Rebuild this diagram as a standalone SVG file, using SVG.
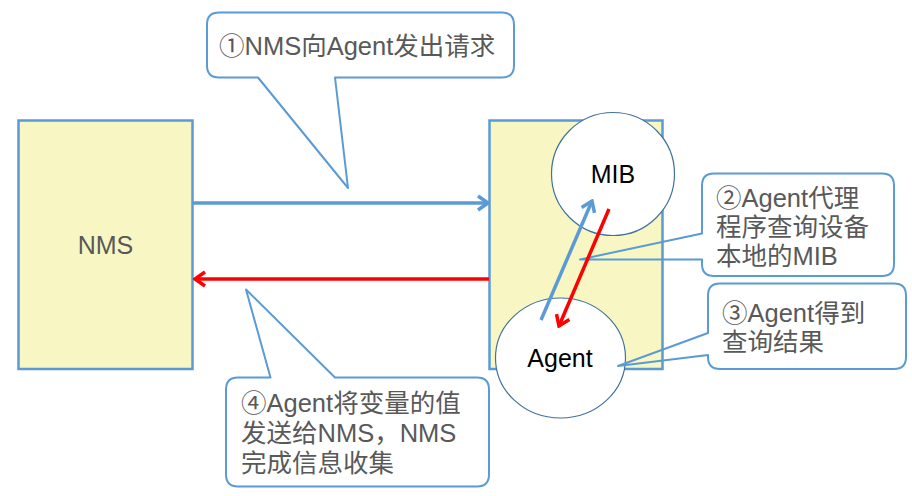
<svg xmlns="http://www.w3.org/2000/svg" width="912" height="496" viewBox="0 0 912 496">
<defs>
<style>
.box{fill:#F8F7C3;stroke:#5B9BD5;stroke-width:2.5}
.circ{fill:#FFFFFF;stroke:#41719C;stroke-width:1.2}
.lbl{font-family:"Liberation Sans","Noto Sans CJK SC",sans-serif;font-size:25.5px;fill:#595959}
.nlbl{font-family:"Liberation Sans","Noto Sans CJK SC",sans-serif;font-size:25px;fill:#000000}
.call{fill:none;stroke:#5B9BD5;stroke-width:2;stroke-linejoin:round}
.blue{stroke:#5B9BD5;stroke-width:3.5;fill:none}
.red{stroke:#FF0000;stroke-width:3.5;fill:none}
</style>
<marker id="hb" viewBox="-14 -10 16 20" refX="0" refY="0" markerWidth="16" markerHeight="20" markerUnits="userSpaceOnUse" orient="auto">
<path d="M-10,-7 L0,0 L-10,7" fill="none" stroke="#5B9BD5" stroke-width="3.5" stroke-linejoin="miter"/>
</marker>
<marker id="hr" viewBox="-14 -10 16 20" refX="0" refY="0" markerWidth="16" markerHeight="20" markerUnits="userSpaceOnUse" orient="auto">
<path d="M-10,-7 L0,0 L-10,7" fill="none" stroke="#FF0000" stroke-width="3.5" stroke-linejoin="miter"/>
</marker>
</defs>
<rect width="912" height="496" fill="#FFFFFF"/>
<g id="nms">
<rect class="box" x="18.5" y="120.5" width="174" height="248.5"/>
<text class="lbl" x="105.5" y="254" text-anchor="middle" style="font-size:25px">NMS</text>
</g>
<g id="agentbox">
<rect class="box" x="489.5" y="120.5" width="173" height="248.5"/>
</g>
<g id="mib">
<circle class="circ" cx="613" cy="174" r="61.5"/>
<text class="nlbl" x="613" y="183" text-anchor="middle">MIB</text>
</g>
<g id="agent">
<ellipse class="circ" cx="560.5" cy="358" rx="65" ry="60"/>
<text class="nlbl" x="560" y="367" text-anchor="middle">Agent</text>
</g>
<g id="callout1">
<path class="call" d="M219,12.5 H502 Q514,12.5 514,24.5 V65.5 Q514,77.5 502,77.5 H335 L348,188 L258,77.5 H219 Q207,77.5 207,65.5 V24.5 Q207,12.5 219,12.5 Z"/>
<text class="lbl" x="219" y="55">①NMS向Agent发出请求</text>
</g>
<g id="callout2">
<path class="call" d="M714,173.5 H882 Q894,173.5 894,185.5 V264 Q894,276 882,276 H714 Q702,276 702,264 V259.5 L580,259.5 L702,233.5 V185.5 Q702,173.5 714,173.5 Z"/>
<text class="lbl" x="716" y="207">②Agent代理</text>
<text class="lbl" x="716" y="236">程序查询设备</text>
<text class="lbl" x="716" y="265">本地的MIB</text>
</g>
<g id="callout3">
<path class="call" d="M720,283.5 H894 Q906,283.5 906,295.5 V357 Q906,369 894,369 H720 Q708,369 708,357 V355 L618,366 L708,333 V295.5 Q708,283.5 720,283.5 Z"/>
<text class="lbl" x="722" y="322">③Agent得到</text>
<text class="lbl" x="722" y="351">查询结果</text>
</g>
<g id="callout4">
<path class="call" d="M238,377.5 H270.5 L246,289.5 L335,377.5 H477 Q489,377.5 489,389.5 V474.5 Q489,486.5 477,486.5 H238 Q226,486.5 226,474.5 V389.5 Q226,377.5 238,377.5 Z"/>
<text class="lbl" x="241" y="412">④Agent将变量的值</text>
<text class="lbl" x="241" y="442">发送给NMS，NMS</text>
<text class="lbl" x="241" y="472">完成信息收集</text>
</g>
<g id="connectors">
<line class="blue" x1="193" y1="203" x2="488" y2="203" marker-end="url(#hb)"/>
<line class="red" x1="489" y1="279" x2="195" y2="279" marker-end="url(#hr)"/>
<line class="blue" x1="541" y1="320" x2="592" y2="201" marker-end="url(#hb)"/>
<line class="red" x1="609" y1="209" x2="559" y2="326" marker-end="url(#hr)"/>
</g>
</svg>
